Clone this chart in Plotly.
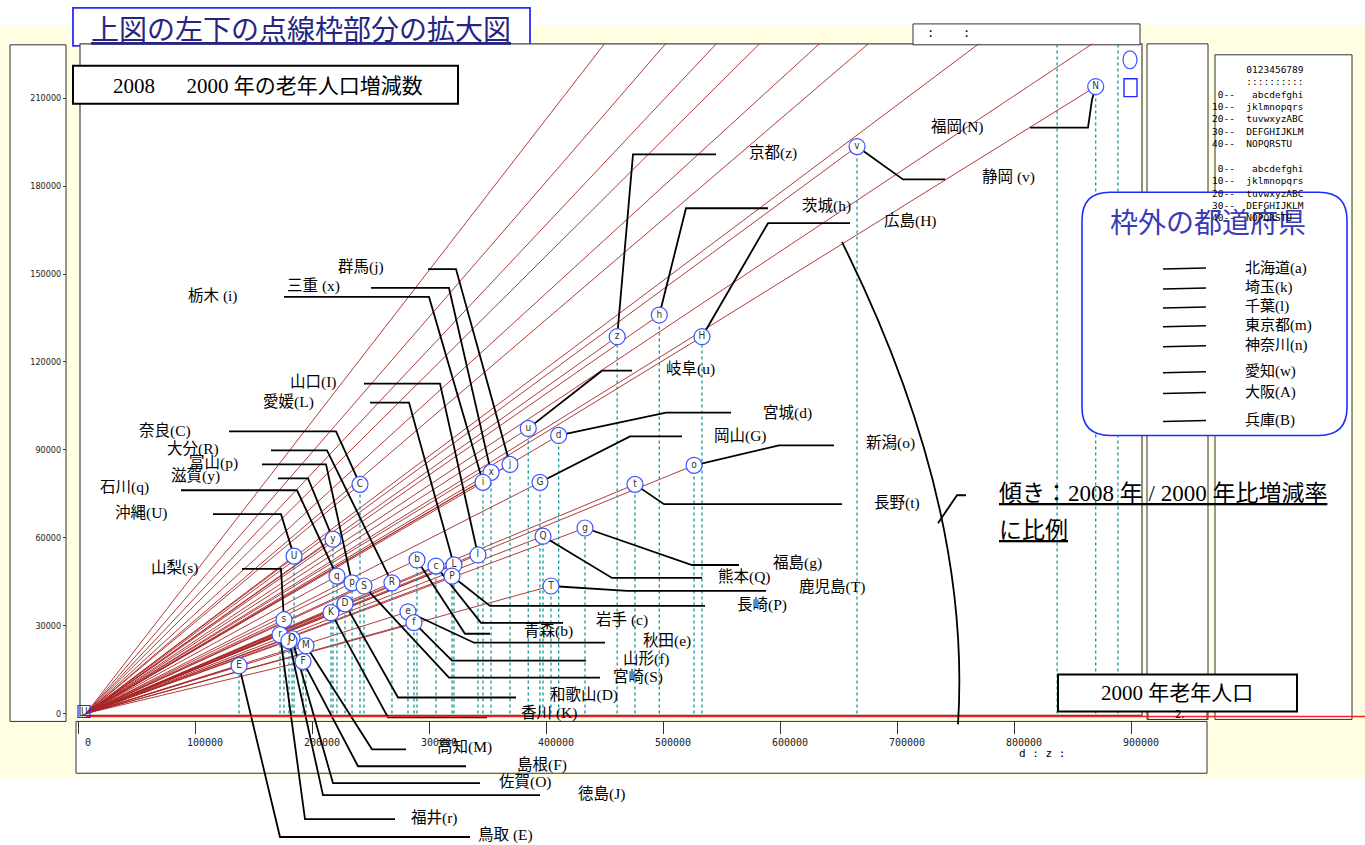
import plotly.graph_objects as go

# ---- data: 65+ population in 2000 and its change 2000 -> 2008 ----
codes = ["N", "v", "z", "h", "H", "u", "d", "G", "o", "t",
         "j", "x", "i", "C", "y", "U", "q", "p", "S", "R",
         "I", "b", "c", "L", "P", "Q", "g", "T", "K", "D",
         "e", "f", "s", "r", "O", "J", "M", "F", "E"]
names = ["福岡", "静岡", "京都", "茨城", "広島", "岐阜", "宮城", "岡山", "新潟", "長野",
         "群馬", "三重", "栃木", "奈良", "滋賀", "沖縄", "石川", "富山", "宮崎", "大分",
         "山口", "青森", "岩手", "愛媛", "長崎", "熊本", "福島", "鹿児島", "香川", "和歌山",
         "秋田", "山形", "山梨", "福井", "佐賀", "徳島", "高知", "島根", "鳥取"]
pop2000 = [863000, 659000, 454000, 490000, 526500, 378000, 404000, 388000, 519700, 469200,
           362400, 346200, 339300, 234200, 211100, 177800, 214500, 227400, 237600, 261500,
           335000, 282900, 299100, 314500, 312800, 390600, 426500, 397400, 209400, 221400,
           275200, 280300, 169200, 165800, 176100, 173500, 188000, 185500, 130800]
change = [214000, 193500, 128600, 136000, 128600, 97300, 94900, 78900, 84700, 78200,
          85000, 82300, 78900, 78200, 59500, 53700, 46900, 44600, 43500, 44600,
          54100, 52400, 50300, 50700, 46900, 60500, 63300, 43500, 34400, 37400,
          34700, 31000, 32000, 26900, 25500, 24800, 23100, 17700, 16300]

# prefectures outside the frame (only their rays are visible)
out_codes = ["a", "k", "l", "m", "n", "w", "A", "B"]
out_names = ["北海道", "埼玉", "千葉", "東京都", "神奈川", "愛知", "大阪", "兵庫"]
out_pop2000 = [1031000, 882000, 830000, 1910000, 1169000, 1020000, 1312000, 938000]
out_change = [274000, 455000, 383000, 653000, 496000, 372000, 521000, 281000]

ytick_vals = [0, 30000, 60000, 90000, 120000, 150000, 180000, 210000]
xtick_vals = [0, 100000, 200000, 300000, 400000, 500000, 600000, 700000, 800000, 900000]

# ---- page geometry (pixels) ----
W, H = 1365, 845
OX, OY = 86, 716            # origin of the chart
SX, SY = 117 / 100000, 88.2 / 30000
AX0 = 78                    # zero tick of the lower scale strip


def dx(px):
    return (px - OX) / SX


def dy(py):
    return (OY - py) / SY


def fx(px):
    return px / W


def fy(py):
    return 1 - py / H


LAB_FONT = "Liberation Serif, Noto Sans CJK JP"
spaced = {"v", "i", "x", "c", "K", "E"}

# label centre and leader bend points (px) for each prefecture
labels = {
    "N": (958, 127, [(1030, 128), (1088, 128), (1092, 100)]),
    "v": (1008, 178, [(945, 180), (903, 180)]),
    "z": (773, 154, [(716, 155), (633, 155)]),
    "h": (826, 207, [(768, 209), (686, 209)]),
    "H": (910, 222, [(850, 224), (768, 224)]),
    "u": (690, 370, [(632, 372), (602, 372)]),
    "d": (788, 414, [(731, 414), (666, 414)]),
    "G": (740, 438, [(682, 438), (630, 438)]),
    "o": (890, 445, [(834, 447), (779, 447)]),
    "t": (897, 505, [(842, 506), (664, 506)]),
    "g": (797, 565, [(739, 567), (692, 567)]),
    "Q": (745, 579, [(702, 580), (612, 580)]),
    "T": (832, 589, [(766, 593), (627, 593)]),
    "P": (762, 607, [(705, 608), (490, 608)]),
    "c": (622, 622, [(563, 625), (481, 625)]),
    "b": (548, 633, [(490, 636), (465, 636)]),
    "e": (667, 643, [(605, 645), (474, 645)]),
    "f": (646, 661, [(586, 663), (452, 663)]),
    "S": (638, 679, [(600, 680), (449, 680)]),
    "D": (584, 697, [(516, 700), (398, 700)]),
    "K": (549, 716, [(487, 720), (388, 720)]),
    "M": (464, 750, [(406, 752), (372, 752)]),
    "F": (542, 768, [(466, 769), (358, 769)]),
    "O": (525, 785, [(480, 786), (333, 786)]),
    "J": (601, 797, [(540, 798), (323, 798)]),
    "r": (434, 821, [(395, 822), (305, 822)]),
    "E": (505, 838, [(470, 840), (280, 840)]),
    "j": (361, 268, [(428, 270), (456, 270)]),
    "x": (313, 287, [(371, 289), (449, 289)]),
    "i": (213, 297, [(284, 298), (429, 298)]),
    "I": (313, 383, [(364, 385), (440, 385)]),
    "L": (288, 403, [(370, 404), (409, 404)]),
    "C": (165, 433, [(229, 433), (336, 433)]),
    "R": (193, 451, [(271, 452), (327, 452)]),
    "p": (213, 465, [(262, 466), (326, 466)]),
    "y": (195, 478, [(278, 480), (308, 480)]),
    "q": (125, 489, [(181, 492), (297, 492)]),
    "U": (141, 515, [(213, 516), (281, 516)]),
    "s": (174, 570, [(242, 571), (281, 571)]),
}
out_label_y = [269, 289, 308, 327, 347, 373, 394, 422]

fig = go.Figure()

# rays from the origin
all_x = pop2000 + out_pop2000
all_y = change + out_change
rx, ry, vx, vy = [], [], [], []
for px_, py_ in zip(all_x, all_y):
    rx += [0, px_, None]
    ry += [0, py_, None]
    vx += [px_, px_, None]
    vy += [0, py_, None]
fig.add_trace(go.Scatter(x=rx, y=ry, mode="lines", line=dict(color="rgba(168,38,38,0.9)", width=1),
                         hoverinfo="skip", showlegend=False))
fig.add_trace(go.Scatter(x=vx, y=vy, mode="lines",
                         line=dict(color="rgb(20,150,150)", width=1.3, dash="3px,3px"),
                         hoverinfo="skip", showlegend=False))

# axis carriers for the scale strips
fig.add_trace(go.Scatter(x=[None], y=[None], xaxis="x2", yaxis="y", showlegend=False))
fig.add_trace(go.Scatter(x=[None], y=[None], xaxis="x", yaxis="y2", showlegend=False))

# leader lines
lx, ly = [], []
for code, (cx, cy, bends) in labels.items():
    k = codes.index(code)
    for bx, by in bends:
        lx.append(dx(bx))
        ly.append(dy(by))
    lx += [pop2000[k], None]
    ly += [change[k], None]
fig.add_trace(go.Scatter(x=lx, y=ly, mode="lines", line=dict(color="black", width=1.8),
                         xaxis="x3", yaxis="y3", hoverinfo="skip", showlegend=False))

# circled letters
fig.add_trace(go.Scatter(
    x=pop2000, y=change, mode="markers+text", text=codes, textposition="middle center",
    textfont=dict(size=10, color="#333333", family="DejaVu Sans Condensed"),
    marker=dict(symbol="circle", size=16, color="white", line=dict(color="#3b55ff", width=1.2)),
    xaxis="x3", yaxis="y3", hoverinfo="skip", showlegend=False, cliponaxis=False))

ann = []
for code, (cx, cy, bends) in labels.items():
    k = codes.index(code)
    sep = " " if code in spaced else ""
    ann.append(dict(x=fx(cx), y=fy(cy), text=f"{names[k]}{sep}({code})",
                    font=dict(size=15.5, family=LAB_FONT, color="black")))
for nm, cd, yy in zip(out_names, out_codes, out_label_y):
    ann.append(dict(x=fx(1243), y=fy(yy), xanchor="left", text=f"{nm}({cd})",
                    font=dict(size=15, family=LAB_FONT, color="black")))

ann += [
    dict(x=fx(301), y=fy(28), text="<u>上図の左下の点線枠部分の拡大図</u>",
         font=dict(size=28, family="Noto Sans CJK JP", color="#262680")),
    dict(x=fx(268), y=fy(86), text="2008\u3000\u00a0\u00a02000 年の老年人口増減数",
         font=dict(size=21, family=LAB_FONT, color="black")),
    dict(x=fx(1177), y=fy(695), text="2000 年老年人口",
         font=dict(size=21, family=LAB_FONT, color="black")),
    dict(x=fx(997), y=fy(495), xanchor="left", text="<u>傾き：2008 年 / 2000 年比増減率</u>",
         font=dict(size=23, family=LAB_FONT, color="black")),
    dict(x=fx(997), y=fy(532), xanchor="left", text="<u>に比例</u>",
         font=dict(size=23, family=LAB_FONT, color="black")),
    dict(x=fx(1208), y=fy(222), text="枠外の都道府県",
         font=dict(size=28, family="Noto Sans CJK JP", color="#3b3bb8")),
    dict(x=fx(948), y=fy(33), text=":\u00a0\u00a0\u00a0\u00a0:",
         font=dict(size=12, family="DejaVu Sans Mono", color="black")),
    dict(x=fx(1042), y=fy(756), text="d\u00a0:\u00a0z\u00a0:",
         font=dict(size=11, family="DejaVu Sans Mono", color="black")),
    dict(x=fx(1180), y=fy(717), text="2.", font=dict(size=10, family="DejaVu Sans", color="black")),
    dict(x=fx(84), y=fy(714), text="U", font=dict(size=10, family="DejaVu Sans Condensed", color="#333")),
]

nb = "\u00a0"
table_rows = [
    "0123456789", "::::::::::",
    " 0--" + nb * 2 + " abcdefghi", "10--" + nb * 2 + "jklmnopqrs", "20--" + nb * 2 + "tuvwxyzABC",
    "30--" + nb * 2 + "DEFGHIJKLM", "40--" + nb * 2 + "NOPQRSTU" + nb * 2, "",
    " 0--" + nb * 2 + " abcdefghi", "10--" + nb * 2 + "jklmnopqrs", "20--" + nb * 2 + "tuvwxyzABC",
    "30--" + nb * 2 + "DEFGHIJKLM", "40--" + nb * 2 + "NOPQRSTU" + nb * 2,
]
table_rows = [r.replace(" ", nb) if r else nb for r in table_rows]
ann.append(dict(x=fx(1306), y=fy(62), xanchor="right", yanchor="top", align="right",
                text="<br>".join(table_rows),
                font=dict(size=9.5, family="DejaVu Sans Mono", color="black")))

for a in ann:
    a.setdefault("xref", "paper")
    a.setdefault("yref", "paper")
    a.setdefault("showarrow", False)
    a.setdefault("xanchor", "center")
    a.setdefault("yanchor", "middle")


def rect(x0, y0, x1, y1, fill="white", line="#333333", width=1, layer="below", **kw):
    return dict(type="rect", xref="paper", yref="paper", x0=fx(x0), x1=fx(x1), y0=fy(y1), y1=fy(y0),
                fillcolor=fill, line=dict(color=line, width=width), layer=layer, **kw)


def seg(pts, color="black", width=1.8, layer="above"):
    p = "M " + " L ".join(f"{fx(a)},{fy(b)}" for a, b in pts)
    return dict(type="path", xref="paper", yref="paper", path=p,
                line=dict(color=color, width=width), layer=layer)


def rounded(x0, y0, x1, y1, r):
    rx_, ry_ = r / W, r / H
    a0, a1, b0, b1 = fx(x0), fx(x1), fy(y1), fy(y0)
    p = (f"M {a0 + rx_},{b1} L {a1 - rx_},{b1} Q {a1},{b1} {a1},{b1 - ry_} "
         f"L {a1},{b0 + ry_} Q {a1},{b0} {a1 - rx_},{b0} L {a0 + rx_},{b0} "
         f"Q {a0},{b0} {a0},{b0 + ry_} L {a0},{b1 - ry_} Q {a0},{b1} {a0 + rx_},{b1} Z")
    return dict(type="path", xref="paper", yref="paper", path=p, fillcolor="white",
                line=dict(color="#1f2bff", width=1.6), layer="above")


shapes = [
    rect(0, 25, W, 780, fill="#fffee3", line="rgba(0,0,0,0)", width=0),
    rect(73, 8, 530, 46, line="#2a2aff", width=1.8),
    rect(10, 45, 66, 724),
    rect(80, 44, 1142, 718, line="#444444", width=1.2),
    rect(913, 24, 1140, 45),
    rect(1147, 44, 1208, 722),
    rect(1215, 55, 1352, 722),
    rect(76, 724, 1207, 776),
    rect(73, 66, 458, 104, line="black", width=2),
    rect(1148, 710, 1207, 722),
    seg([(86, 719), (W, 719)], color="#ff2020", width=1.5),
    rect(1058, 677, 1297, 714, line="black", width=2, layer="above"),
    rounded(1082, 193, 1347, 437, 28),
    dict(type="circle", xref="paper", yref="paper", x0=fx(1123), x1=fx(1137), y0=fy(69), y1=fy(51),
         line=dict(color="#3b55ff", width=1.2), layer="above"),
    rect(1124, 79, 1137, 97, fill="rgba(0,0,0,0)", line="#1f2bff", width=1.4, layer="above"),
    rect(78, 708, 90, 720, fill="rgba(0,0,0,0)", line="#1f2bff", width=1.2, layer="above"),
    dict(type="path", xref="paper", yref="paper",
         path=f"M {fx(842)},{fy(243)} Q {fx(972)},{fy(505)} {fx(958)},{fy(727)}",
         line=dict(color="black", width=1.8), layer="above"),
    seg([(938, 525), (957, 497), (966, 497)]),
]
for yy in out_label_y:
    shapes.append(seg([(1163, yy + 1), (1206, yy)], width=1.5))

fig.update_layout(
    width=W, height=H, margin=dict(l=0, r=0, t=0, b=0),
    paper_bgcolor="white", plot_bgcolor="rgba(0,0,0,0)",
    shapes=shapes, annotations=ann,
    xaxis=dict(domain=[fx(80), fx(1142)], range=[dx(80), dx(1142)], visible=False, anchor="y"),
    yaxis=dict(domain=[fy(718), fy(44)], range=[dy(718), dy(44)], visible=False, anchor="x"),
    xaxis2=dict(domain=[fx(76), fx(1207)], range=[(76 - AX0) / SX, (1207 - AX0) / SX],
                anchor="free", position=fy(724), side="bottom", showgrid=False, zeroline=False,
                tickvals=xtick_vals, ticktext=[str(v) for v in xtick_vals],
                ticks="outside", ticklen=12, tickcolor="#333", ticklabelshift=10,
                tickfont=dict(size=10, family="DejaVu Sans Mono", color="#222")),
    yaxis2=dict(overlaying="y", anchor="free", position=fx(66), side="left",
                range=[dy(718), dy(44)], showgrid=False, zeroline=False,
                tickvals=ytick_vals, ticktext=[str(v) for v in ytick_vals],
                ticks="outside", ticklen=3, tickcolor="#333",
                tickfont=dict(size=9, family="DejaVu Sans Condensed", color="#222")),
    xaxis3=dict(domain=[0, 1], range=[dx(0), dx(W)], visible=False, anchor="y3"),
    yaxis3=dict(domain=[0, 1], range=[dy(H), dy(0)], visible=False, anchor="x3"),
)

fig.write_html("out.html", config={"displayModeBar": False},
               post_script="document.body.style.margin='0';")
